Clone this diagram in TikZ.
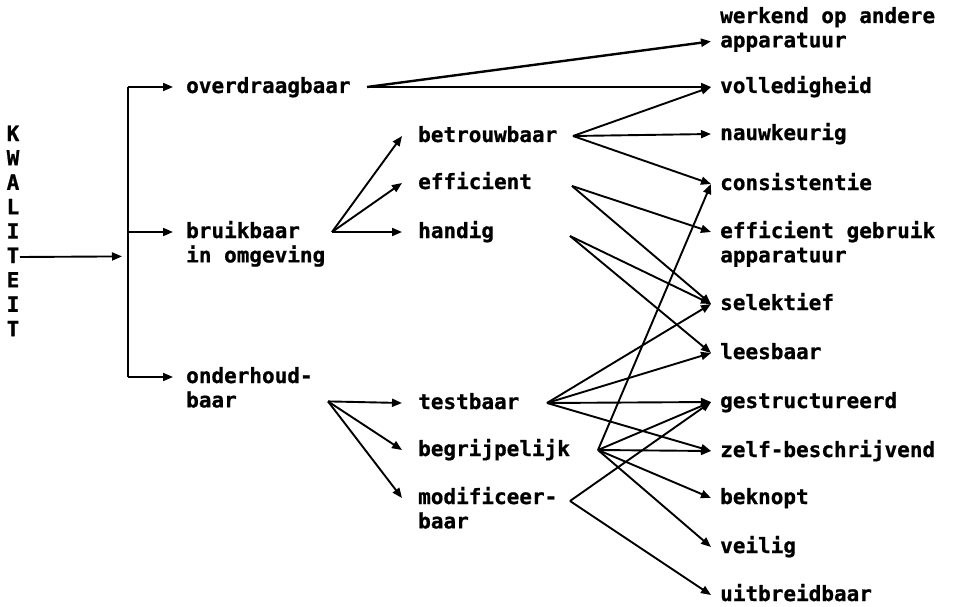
\documentclass[tikz,border=0pt]{standalone}
\usepackage{fontspec}
\setmonofont[BoldFeatures={FakeBold=0.8}]{DejaVu Sans Mono}
\usetikzlibrary{arrows.meta}
% fixed first-line height so every label's north edge sits the same distance above its x-height middle
\newcommand\lblstrut{\rule{0pt}{17.3pt}}
\tikzset{
  lbl/.style={anchor=north west, yshift=11.5pt, inner sep=0pt, align=left,
    font={\ttfamily\bfseries\fontsize{21}{24.4}\selectfont}},
  conn/.style={line width=1.9pt, -{Triangle[length=10pt,width=8pt]}},
  plain/.style={line width=1.9pt},
}
\begin{document}
\begin{tikzpicture}[x=1pt,y=-1pt]
\useasboundingbox (0,0) rectangle (955,607);

% root, written vertically
\node[lbl,anchor=north,align=center] (kw) at (13,135)
  {\lblstrut K\\W\\A\\L\\I\\T\\E\\I\\T};

% main criteria
\node[lbl] (over)  at (186,87)  {\lblstrut overdraagbaar};
\node[lbl] (bruik) at (186,232) {\lblstrut bruikbaar\\in omgeving};
\node[lbl] (onder) at (186,377) {\lblstrut onderhoud-\\baar};

% sub-criteria
\node[lbl] (betr) at (418,136) {\lblstrut betrouwbaar};
\node[lbl] (effi) at (418,183) {\lblstrut efficient};
\node[lbl] (hand) at (418,232) {\lblstrut handig};
\node[lbl] (test) at (418,403) {\lblstrut testbaar};
\node[lbl] (begr) at (418,450) {\lblstrut begrijpelijk};
\node[lbl] (modi) at (418,498) {\lblstrut modificeer-\\baar};

% properties
\node[lbl] (werk) at (720,17)  {\lblstrut werkend op andere\\apparatuur};
\node[lbl] (voll) at (720,87)  {\lblstrut volledigheid};
\node[lbl] (nauw) at (720,134) {\lblstrut nauwkeurig};
\node[lbl] (cons) at (720,184) {\lblstrut consistentie};
\node[lbl] (effg) at (720,232) {\lblstrut efficient gebruik\\apparatuur};
\node[lbl] (sele) at (720,304) {\lblstrut selektief};
\node[lbl] (lees) at (720,353) {\lblstrut leesbaar};
\node[lbl] (gest) at (720,402) {\lblstrut gestructureerd};
\node[lbl] (zelf) at (720,451) {\lblstrut zelf-beschrijvend};
\node[lbl] (bekn) at (720,498) {\lblstrut beknopt};
\node[lbl] (veil) at (720,547) {\lblstrut veilig};
\node[lbl] (uitb) at (720,595) {\lblstrut uitbreidbaar};

% root into the bracket
\draw[conn] ([xshift=7pt,yshift=-133.5pt]kw.north)
  -- ([xshift=-64pt,yshift=-35.9pt]bruik.north west);
\draw[plain] ([xshift=-58pt,yshift=-11.5pt]over.north west)
  -- ([xshift=-58pt,yshift=-11.5pt]onder.north west);
\foreach \t in {over,bruik,onder}
  \draw[conn] ([xshift=-58pt,yshift=-11.5pt]\t.north west)
    -- ([xshift=-13pt,yshift=-11.5pt]\t.north west);

% main criteria to sub-criteria
\foreach \t in {betr,effi,hand}
  \draw[conn] ([xshift=146pt,yshift=-11.5pt]bruik.north west)
    -- ([xshift=-16pt,yshift=-11.5pt]\t.north west);
\foreach \t in {test,begr,modi}
  \draw[conn] ([xshift=142pt,yshift=-35.9pt]onder.north west)
    -- ([xshift=-16pt,yshift=-11.5pt]\t.north west);

% overdraagbaar
\draw[conn,line width=2.4pt] ([xshift=181pt,yshift=-11.5pt]over.north west)
  -- ([xshift=-9pt,yshift=-35.9pt]werk.north west);
\draw[conn] ([xshift=181pt,yshift=-11.5pt]over.north west)
  -- ([xshift=-9pt,yshift=-11.5pt]voll.north west);

% betrouwbaar
\foreach \t in {voll,nauw,cons}
  \draw[conn] ([xshift=155pt,yshift=-11.5pt]betr.north west)
    -- ([xshift=-9pt,yshift=-11.5pt]\t.north west);

% efficient
\foreach \t in {effg,sele}
  \draw[conn] ([xshift=154pt,yshift=-14.5pt]effi.north west)
    -- ([xshift=-9pt,yshift=-11.5pt]\t.north west);

% handig
\foreach \t in {sele,lees}
  \draw[conn] ([xshift=152pt,yshift=-15.5pt]hand.north west)
    -- ([xshift=-9pt,yshift=-11.5pt]\t.north west);

% testbaar
\foreach \t in {sele,lees,gest,zelf}
  \draw[conn] ([xshift=129pt,yshift=-11.5pt]test.north west)
    -- ([xshift=-9pt,yshift=-11.5pt]\t.north west);

% begrijpelijk
\foreach \t in {cons,gest,zelf,bekn,veil}
  \draw[conn] ([xshift=180pt,yshift=-11.5pt]begr.north west)
    -- ([xshift=-9pt,yshift=-11.5pt]\t.north west);

% modificeerbaar
\foreach \t in {gest,uitb}
  \draw[conn] ([xshift=152pt,yshift=-14.5pt]modi.north west)
    -- ([xshift=-9pt,yshift=-11.5pt]\t.north west);
\end{tikzpicture}
\end{document}
